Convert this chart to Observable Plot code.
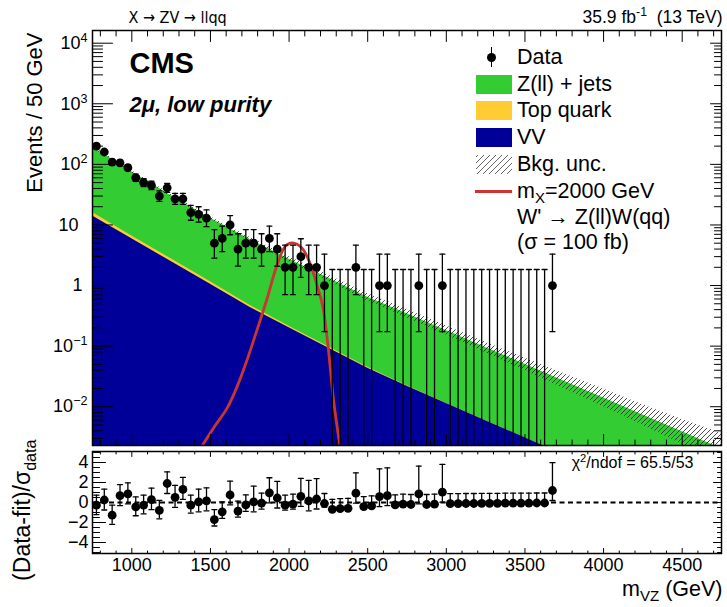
<!DOCTYPE html>
<html>
<head>
<meta charset="utf-8">
<script src="https://cdn.jsdelivr.net/npm/d3@7"></script>
<script src="https://cdn.jsdelivr.net/npm/@observablehq/plot@0.6"></script>
<style>
  body { margin: 0; background: #fff; }
  #chart { position: relative; width: 727px; height: 607px; overflow: hidden;
           font-family: "Liberation Sans", Arial, Helvetica, sans-serif; color: #000; }
  #chart svg { position: absolute; left: 0; overflow: visible; }
  .leg { position: absolute; white-space: nowrap; font-size: 21.5px; line-height: 20px; height: 20px; }
  .sw { position: absolute; }
</style>
</head>
<body>
<div id="chart"></div>
<script>
// ---- observed data: m_VZ bin centres (50 GeV bins) and event counts ----
const massBins = [
  775, 825, 875, 925, 975, 1025, 1075, 1125, 1175, 1225,
  1275, 1325, 1375, 1425, 1475, 1525, 1575, 1625, 1675, 1725,
  1775, 1825, 1875, 1925, 1975, 2025, 2075, 2125, 2175, 2225,
  2275, 2325, 2375, 2425, 2475, 2525, 2575, 2625, 2675, 2725,
  2775, 2825, 2875, 2925, 2975, 3025, 3075, 3125, 3175, 3225,
  3275, 3325, 3375, 3425, 3475, 3525, 3575, 3625, 3675
];
const counts = [
  200, 160, 109, 106, 88, 60, 50, 45, 30, 41,
  27, 27, 16, 15, 13, 5, 6, 10, 4, 5,
  5, 4, 6, 4, 2, 2, 3, 2, 2, 1,
  0, 0, 0, 2, 0, 0, 1, 1, 0, 0,
  0, 1, 0, 0, 1, 0, 0, 0, 0, 0,
  0, 0, 0, 0, 0, 0, 0, 0, 1
];
// (data - fit) / sigma_data per bin
const pulls = [
  -0.27, 0.25, -1.27, 0.69, 0.86, -0.44, -0.27, 0.28, -0.79, 1.9,
  0.52, 1.31, -0.27, 0.07, 0.17, -1.71, -0.93, 0.76, -0.86, -0.24,
  0.07, -0.06, 0.97, 0.45, -0.27, -0.17, 0.62, 0.17, 0.35, -0.1,
  -0.68, -0.62, -0.58, 0.93, -0.41, -0.34, 0.59, 0.69, -0.24, -0.17,
  -0.2, 0.86, -0.2, -0.17, 1.03, -0.12, -0.11, -0.1, -0.1, -0.09,
  -0.08, -0.08, -0.07, -0.07, -0.06, -0.06, -0.05, -0.05, 1.2
];

// ---- background fit, evaluated every 250 GeV (events / 50 GeV) ----
const bkgMass  = [750, 1000, 1250, 1500, 1750, 2000, 2250, 2500, 2750, 3000, 3250, 3500, 3750, 4000, 4250, 4500, 4750];
const zjetsYield = [177, 68.6, 27.7, 11.75, 5.33, 2.51, 1.24, 0.596, 0.321, 0.170, 0.0893, 0.0471, 0.0248, 0.0131, 0.00687, 0.00363, 0.00191];
const topYield   = [1.9, 0.7, 0.27, 0.10, 0.035, 0.012, 0.004, 0.0013, 0.0004, 0.00013, 0.00004, 0.000013, 0.000004, 0.0000013, 0.0000004, 0.00000013, 0.00000004];
const vvYield    = [14.1, 5.90, 2.49, 1.054, 0.44, 0.2006, 0.0933, 0.0433, 0.0217, 0.01133, 0.00589, 0.00307, 0.0016, 0.00084, 0.00044, 0.00023, 0.00012];
const bkgUnc     = [0.04, 0.045, 0.05, 0.06, 0.08, 0.10, 0.12, 0.15, 0.17, 0.19, 0.22, 0.27, 0.33, 0.40, 0.48, 0.60, 0.80];

// ---- W' signal shape, m_X = 2000 GeV, sigma = 100 fb ----
const sigMass  = [1448, 1520, 1607, 1680, 1734, 1798, 1861, 1925, 1977, 2020, 2083, 2136, 2189, 2205, 2220, 2250, 2284, 2322];
const sigYield = [0.00229, 0.00447, 0.00955, 0.0251, 0.0603, 0.191, 0.617, 2.24, 4.47, 5.06, 4.14, 2.22, 0.80, 0.575, 0.376, 0.0885, 0.0122, 0.0024];

// ---- axis ticks ----
const xMajor = [1000, 1500, 2000, 2500, 3000, 3500, 4000, 4500];
const yMajorTop = [0.01, 0.1, 1, 10, 100, 1000, 10000];
const yMajorTopLabels = ["10^{\u22122}", "10^{\u22121}", "1", "10", "10^{2}", "10^{3}", "10^{4}"];
const yMajorPull = [-4, -2, 0, 2, 4];

// ---- layout ----
const W = 727;
const xDomain = [750, 4750];
const yDomainTop = [0.00229, 16200];
const yDomainPull = [-5.1, 5.1];
const yFloor = 1e-4;
const font = "Liberation Sans, Arial, Helvetica, sans-serif";

// Garwood 68% Poisson intervals
const garwood = [[0, 1.841], [0.173, 3.300], [0.708, 4.638], [1.367, 5.918], [2.086, 7.163], [2.840, 8.382],
                 [3.620, 9.584], [4.419, 10.77], [5.232, 11.95], [6.057, 13.11], [6.891, 14.27]];
function poissonInterval(n) {
  if (n < garwood.length) return garwood[n];
  return [n - Math.sqrt(n + 0.25), n + 1 + Math.sqrt(n + 0.75)];
}

const obs = massBins.map((m, i) => {
  const n = counts[i];
  const [lo, hi] = poissonInterval(n);
  return {m, n, lo: Math.max(lo, yFloor), hi};
});
const pullPts = massBins.map((m, i) => {
  const n = counts[i], p = pulls[i];
  const [lo, hi] = poissonInterval(n);
  const sLo = n - lo, sHi = hi - n;
  let a, b;
  if (p >= 0 && sLo > 0) { a = p - 1; b = p + sHi / sLo; }
  else { a = p - sLo / sHi; b = p + 1; }
  return {m, p, a, b};
});
const bkg = bkgMass.map((m, i) => {
  const vv = vvYield[i], vvTop = vv + topYield[i], total = vvTop + zjetsYield[i];
  return {m, vv, vvTop, total, uncLo: total / (1 + bkgUnc[i]), uncHi: total * (1 + bkgUnc[i])};
});
const sig = sigMass.map((m, i) => ({m, v: sigYield[i]}));

// minor tick positions
const xMinor = d3.range(800, 4750, 100).filter(v => v % 500 !== 0);
const yMinorTop = [];
for (let e = -3; e <= 4; e++) for (let k = 2; k <= 9; k++) {
  const v = k * 10 ** e;
  if (v > yDomainTop[0] && v < yDomainTop[1]) yMinorTop.push(v);
}
const yMinorPull = d3.range(-5, 5.01, 0.5).filter(v => v % 2 !== 0);

// line-segment shape for ticks and error-bar caps
const seg = {draw(ctx, l) { ctx.moveTo(0, 0); ctx.lineTo(0, -l); }};
const rot = {bottom: 0, top: 180, left: 90, right: -90};
function edgeTicks(values, channel, edge, length, sw = 1) {
  return Plot.vector(values, {[channel]: d => d, frameAnchor: edge, length, rotate: rot[edge],
    anchor: "start", shape: seg, stroke: "black", strokeWidth: sw});
}
const cap = {length: 5, rotate: 90, anchor: "middle", shape: seg, stroke: "black", strokeWidth: 1.3};

function hatchDefs() {
  const ns = "http://www.w3.org/2000/svg";
  const defs = document.createElementNS(ns, "defs");
  defs.innerHTML = `<pattern id="bkgHatch" patternUnits="userSpaceOnUse" width="5" height="5">
      <path d="M-1,1 l2,-2 M0,5 l5,-5 M4,6 l2,-2" stroke="#222" stroke-width="0.8"/></pattern>`;
  return defs;
}

// turn ^{..} / _{..} into super/subscript tspans
function richText(root) {
  const ns = "http://www.w3.org/2000/svg";
  root.querySelectorAll("text").forEach(t => {
    const s = t.textContent;
    if (!/[\^_]\{/.test(s)) return;
    const host = t.closest("[font-size]");
    const fs = host ? parseFloat(host.getAttribute("font-size")) : 16;
    t.textContent = "";
    const re = /([\^_])\{([^}]*)\}/g;
    let last = 0, m;
    const add = (txt, kind) => {
      const sp = document.createElementNS(ns, "tspan");
      sp.textContent = txt;
      if (kind) {
        sp.setAttribute("font-size", (0.7 * fs).toFixed(2));
        sp.setAttribute("baseline-shift", kind === "^" ? (0.4 * fs).toFixed(2) : (-0.25 * fs).toFixed(2));
      }
      t.appendChild(sp);
    };
    while ((m = re.exec(s))) {
      if (m.index > last) add(s.slice(last, m.index));
      add(m[2], m[1]);
      last = re.lastIndex;
    }
    if (last < s.length) add(s.slice(last));
  });
}

const chart = document.getElementById("chart");

// ================= main panel =================
const topPlot = Plot.plot({
  width: W, height: 447,
  marginTop: 30, marginBottom: 2, marginLeft: 92, marginRight: 6,
  x: {domain: xDomain, axis: null},
  y: {type: "log", domain: yDomainTop, axis: null},
  style: {fontFamily: font, background: "transparent", overflow: "visible", color: "black"},
  marks: [
    hatchDefs,
    Plot.areaY(bkg, {x: "m", y1: yFloor, y2: "total", fill: "#33cc33", clip: true}),
    Plot.areaY(bkg, {x: "m", y1: yFloor, y2: "vvTop", fill: "#ffcc33", clip: true}),
    Plot.areaY(bkg, {x: "m", y1: yFloor, y2: "vv", fill: "#000099", clip: true}),
    Plot.areaY(bkg, {x: "m", y1: "uncLo", y2: "uncHi", fill: "url(#bkgHatch)", clip: true}),
    Plot.line(sig, {x: "m", y: "v", stroke: "#cc3333", strokeWidth: 2.8, curve: "catmull-rom", clip: true}),
    Plot.ruleX(obs, {x: "m", y1: "lo", y2: "hi", stroke: "black", strokeWidth: 1.3, clip: true}),
    Plot.vector(obs.filter(d => d.n > 0), {x: "m", y: "lo", ...cap}),
    Plot.vector(obs, {x: "m", y: "hi", ...cap}),
    Plot.dot(obs.filter(d => d.n > 0), {x: "m", y: "n", r: 4.4, fill: "black", stroke: null}),
    Plot.frame({stroke: "black", strokeWidth: 1.5}),
    edgeTicks(xMajor, "x", "bottom", 11), edgeTicks(xMinor, "x", "bottom", 5.5),
    edgeTicks(xMajor, "x", "top", 11), edgeTicks(xMinor, "x", "top", 5.5),
    edgeTicks(yMajorTop, "y", "left", 20), edgeTicks(yMinorTop, "y", "left", 10),
    edgeTicks(yMajorTop, "y", "right", 11), edgeTicks(yMinorTop, "y", "right", 7),
    Plot.text(yMajorTop.filter(v => v < 1 || v > 10), {y: d => d, text: d => yMajorTopLabels[yMajorTop.indexOf(d)],
      frameAnchor: "left", textAnchor: "end", dx: -5, fontSize: 18}),
    Plot.text([1], {y: d => d, text: d => "1", frameAnchor: "left", textAnchor: "end", dx: -10, fontSize: 18}),
    Plot.text([10], {y: d => d, text: d => "10", frameAnchor: "left", textAnchor: "end", dx: -14, fontSize: 18}),
    Plot.text(["Events / 50 GeV"], {text: d => d, frameAnchor: "top-left", rotate: -90, textAnchor: "end",
      lineAnchor: "bottom", dx: -51, dy: 2, fontSize: 22}),
    Plot.text(["X \u2192 ZV \u2192 llqq"], {text: d => d, frameAnchor: "top-left", textAnchor: "start",
      lineAnchor: "bottom", dx: 36, dy: -8, fontSize: 16, fontFamily: "DejaVu Sans Condensed, DejaVu Sans, sans-serif"}),
    Plot.text(["35.9 fb^{-1} \u00a0(13 TeV)"], {text: d => d, frameAnchor: "top-right", textAnchor: "end",
      lineAnchor: "bottom", dx: 1, dy: -8, fontSize: 17.5}),
    Plot.text(["CMS"], {text: d => d, frameAnchor: "top-left", textAnchor: "start", lineAnchor: "bottom",
      dx: 37, dy: 42, fontSize: 29, fontWeight: "bold"}),
    Plot.text(["2\u03bc, low purity"], {text: d => d, frameAnchor: "top-left", textAnchor: "start", lineAnchor: "bottom",
      dx: 37, dy: 81, fontSize: 22, fontWeight: "bold", fontStyle: "italic"})
  ]
});
topPlot.style.top = "0px";
richText(topPlot);
chart.appendChild(topPlot);

// ================= pull panel =================
const pullPlot = Plot.plot({
  width: W, height: 160,
  marginTop: 4, marginBottom: 54, marginLeft: 92, marginRight: 6,
  x: {domain: xDomain, axis: null},
  y: {domain: yDomainPull, axis: null},
  style: {fontFamily: font, background: "transparent", overflow: "visible", color: "black"},
  marks: [
    Plot.ruleY([0], {stroke: "black", strokeWidth: 1.8, strokeDasharray: "5,3.5"}),
    Plot.ruleX(pullPts, {x: "m", y1: "a", y2: "b", stroke: "black", strokeWidth: 1.3, clip: true}),
    Plot.vector(pullPts, {x: "m", y: "a", ...cap}),
    Plot.vector(pullPts, {x: "m", y: "b", ...cap}),
    Plot.dot(pullPts, {x: "m", y: "p", r: 4.4, fill: "black", stroke: null}),
    Plot.frame({stroke: "black", strokeWidth: 1.5}),
    edgeTicks(xMajor, "x", "bottom", 5), edgeTicks(xMinor, "x", "bottom", 2.5),
    edgeTicks(xMajor, "x", "top", 5), edgeTicks(xMinor, "x", "top", 2.5),
    edgeTicks(yMajorPull, "y", "left", 13), edgeTicks(yMinorPull, "y", "left", 7),
    edgeTicks(yMajorPull, "y", "right", 8), edgeTicks(yMinorPull, "y", "right", 4),
    Plot.text(yMajorPull, {y: d => d, text: d => (d < 0 ? "\u2212" : "") + Math.abs(d), frameAnchor: "left",
      textAnchor: "end", dx: -4, fontSize: 18}),
    Plot.text(xMajor, {x: d => d, text: d => String(d), frameAnchor: "bottom", lineAnchor: "bottom",
      dy: 17, fontSize: 18}),
    Plot.text(["m_{VZ} (GeV)"], {text: d => d, frameAnchor: "bottom-right", textAnchor: "end", lineAnchor: "bottom",
      dx: 1, dy: 42, fontSize: 21.5}),
    Plot.text(["(Data-fit)/\u03c3_{data}"], {text: d => d, frameAnchor: "top-left", rotate: -90, textAnchor: "end",
      lineAnchor: "bottom", dx: -63, dy: -12, fontSize: 23}),
    Plot.text(["\u03c7^{2}/ndof = 65.5/53"], {text: d => d, frameAnchor: "top-right", textAnchor: "end",
      lineAnchor: "bottom", dx: -28, dy: 16, fontSize: 16})
  ]
});
pullPlot.style.top = "447px";
richText(pullPlot);
chart.appendChild(pullPlot);

// ================= legend =================
const legendEntries = [
  {label: "Data", cy: 57, kind: "data"},
  {label: "Z(ll) + jets", cy: 84, kind: "box", color: "#33cc33"},
  {label: "Top quark", cy: 110, kind: "box", color: "#ffcc33"},
  {label: "VV", cy: 137, kind: "box", color: "#000099"},
  {label: "Bkg. unc.", cy: 164, kind: "hatch"},
  {label: "m<sub style='font-size:70%;line-height:0'>X</sub>=2000 GeV", cy: 191, kind: "line", color: "#cc3333"},
  {label: "W' \u2192 Z(ll)W(qq)", cy: 217, kind: "none"},
  {label: "(\u03c3 = 100 fb)", cy: 242, kind: "none"}
];
for (const e of legendEntries) {
  if (e.kind === "box" || e.kind === "hatch") {
    const b = document.createElement("div");
    b.className = "sw";
    Object.assign(b.style, {left: "476px", top: (e.cy - 9.5) + "px", width: "36px", height: "19px"});
    b.style.background = e.kind === "box" ? e.color
      : "repeating-linear-gradient(-45deg, #fff 0px, #fff 3.4px, #666 3.4px, #666 4.2px)";
    chart.appendChild(b);
  } else if (e.kind === "line") {
    const b = document.createElement("div");
    b.className = "sw";
    Object.assign(b.style, {left: "475px", top: (e.cy - 1.5) + "px", width: "37px", height: "3px", background: e.color});
    chart.appendChild(b);
  } else if (e.kind === "data") {
    const bar = document.createElement("div");
    bar.className = "sw";
    Object.assign(bar.style, {left: "490.5px", top: (e.cy - 10) + "px", width: "1.4px", height: "20px", background: "#000"});
    chart.appendChild(bar);
    const dot = document.createElement("div");
    dot.className = "sw";
    Object.assign(dot.style, {left: "486.7px", top: (e.cy - 4.5) + "px", width: "9px", height: "9px", borderRadius: "50%", background: "#000"});
    chart.appendChild(dot);
  }
  const t = document.createElement("div");
  t.className = "leg";
  t.style.left = "517px";
  t.style.top = (e.cy - 10) + "px";
  t.innerHTML = e.label;
  chart.appendChild(t);
}
</script>
</body>
</html>
